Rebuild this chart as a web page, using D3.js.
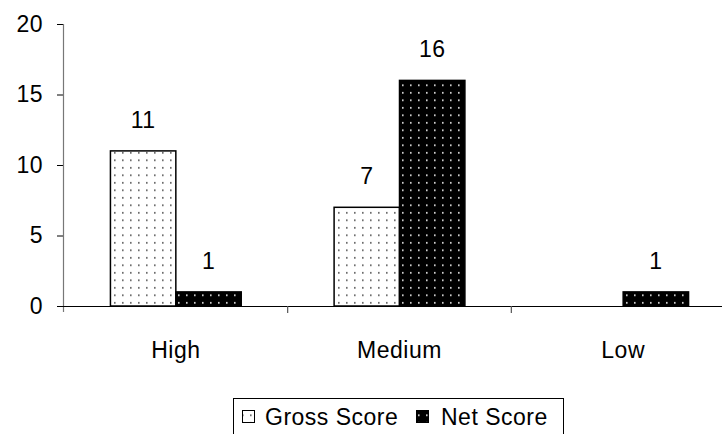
<!DOCTYPE html>
<html><head><meta charset="utf-8">
<script src="https://cdn.jsdelivr.net/npm/d3@7"></script>
<style>body{margin:0;background:#fff}svg{display:block}text{font-family:"Liberation Sans",Arial,sans-serif;letter-spacing:0.5px}</style>
</head><body>
<svg id="c" width="722" height="434"></svg>
<script>
const categories = ["High", "Medium", "Low"];
const seriesNames = ["Gross Score", "Net Score"];
const grossScore = [11, 7, null];
const netScore = [1, 16, 1];
const yTicks = [0, 5, 10, 15, 20];

const FS = 23;
const svg = d3.select("#c");
const defs = svg.append("defs");
function pat(id, bg, dot, w, h) {
  const p = defs.append("pattern").attr("id", id).attr("patternUnits", "userSpaceOnUse")
    .attr("width", w).attr("height", h);
  p.append("rect").attr("width", w).attr("height", h).attr("fill", bg);
  p.append("rect").attr("x", 2).attr("y", 2).attr("width", 1.6).attr("height", 1.6).attr("fill", dot);
}
pat("pg", "#fff", "#555", 8, 7.5);
pat("pn", "#000", "#eee", 8, 7.5);

const x0 = 64, x1 = 735, yTop = 24, yBot = 306;
const x = d3.scaleBand().domain(categories).range([x0, x1]);
const xs = d3.scaleBand().domain(seriesNames).range([0, x.bandwidth()]).paddingInner(0).paddingOuter(0.71);
const y = d3.scaleLinear().domain([0, 20]).range([yBot, yTop]);

// y axis
const ya = svg.append("g").attr("transform", `translate(${x0},0)`)
  .call(d3.axisLeft(y).tickValues(yTicks).tickSize(7).tickPadding(14));
ya.select(".domain").remove();
ya.selectAll(".tick line").attr("stroke", "#000");
ya.selectAll("text").attr("font-size", FS).attr("fill", "#000").attr("font-family", "Liberation Sans, Arial, sans-serif");
svg.append("line").attr("x1", x0 - 0.5).attr("x2", x0 - 0.5).attr("y1", yTop).attr("y2", yBot + 6)
  .attr("stroke", "#777").attr("stroke-width", 1.2);

const fills = ["url(#pg)", "url(#pn)"];
const series = [grossScore, netScore];
series.forEach((vals, si) => {
  categories.forEach((c, ci) => {
    const v = vals[ci];
    if (v == null) return;
    const bx = x(c) + xs(seriesNames[si]);
    svg.append("rect").attr("x", bx).attr("y", y(v)).attr("width", xs.bandwidth()).attr("height", y(0) - y(v))
      .attr("fill", fills[si]).attr("stroke", "#000").attr("stroke-width", 1.5);
    svg.append("text").attr("x", bx + xs.bandwidth() / 2).attr("y", y(v) - 23)
      .attr("text-anchor", "middle").attr("font-size", FS).text(v);
  });
});

// x axis
svg.append("line").attr("x1", x0 - 7).attr("x2", x1).attr("y1", yBot + 0.5).attr("y2", yBot + 0.5)
  .attr("stroke", "#000").attr("stroke-width", 1.2);
categories.forEach((c, i) => {
  if (i > 0) svg.append("line").attr("x1", x(c)).attr("x2", x(c)).attr("y1", yBot).attr("y2", yBot + 7)
    .attr("stroke", "#555").attr("stroke-width", 1.2);
  svg.append("text").attr("x", x(c) + x.bandwidth() / 2).attr("y", yBot + 52)
    .attr("text-anchor", "middle").attr("font-size", FS).text(c);
});

// legend
const lg = svg.append("g");
lg.append("rect").attr("x", 233.5).attr("y", 398.5).attr("width", 330).attr("height", 45)
  .attr("fill", "#fff").attr("stroke", "#000").attr("stroke-width", 1);
const items = [{x: 242, tx: 265, name: seriesNames[0], f: fills[0]}, {x: 416, tx: 441, name: seriesNames[1], f: fills[1]}];
items.forEach(it => {
  lg.append("rect").attr("x", it.x + 0.5).attr("y", 410.5).attr("width", 12).attr("height", 12)
    .attr("fill", it.f).attr("stroke", "#000").attr("stroke-width", 1);
  lg.append("text").attr("x", it.tx).attr("y", 425).attr("font-size", FS).text(it.name);
});
</script>
</body></html>
